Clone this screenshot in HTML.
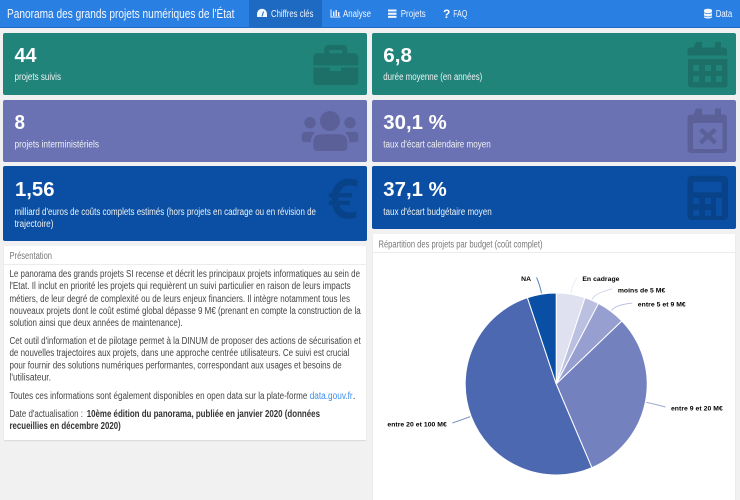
<!DOCTYPE html>
<html lang="fr">
<head>
<meta charset="utf-8">
<title>Panorama des grands projets numériques de l'État</title>
<style>
html,body{margin:0;padding:0;width:740px;height:500px;overflow:hidden;background:#f1f1f1;font-family:"Liberation Sans",sans-serif;}
.box{position:absolute;overflow:hidden;}
.box svg{position:absolute;left:0;top:0;display:block;}
.card{border-radius:2px;}
.teal{background:#21847b;}
.purple{background:#6b72b3;}
.blue{background:#0a4fa3;}
.panel{background:#fff;box-shadow:0 1px 1px rgba(0,0,0,.1);}
.num{font-weight:700;font-size:20px;fill:#fff;}
.lab{font-size:10px;fill:#f0f2f2;}
.ico{fill:rgba(0,0,0,.15);}
.nav{font-size:10px;fill:#f2f6fd;}
.b{font-size:10px;fill:#444;}
.bb{font-size:10px;fill:#333;font-weight:700;}
.h{font-size:10px;fill:#777;}
</style>
</head>
<body>

<div class="box" style="left:0;top:0;width:740px;height:28px;background:#2a7fe3;border-bottom:1px solid #1e6cc8;box-sizing:border-box;">
  <div class="box" style="left:249px;top:0;width:73px;height:27px;background:#1e69c2;"></div>
  <svg width="740" height="28" viewBox="0 0 740 28">
    <text x="7" y="18" font-size="12.6" fill="#f4f8fe" textLength="227.5" lengthAdjust="spacingAndGlyphs">Panorama des grands projets numériques de l'État</text>
    <g>
      <path d="M257 17v-3a5 5.300 0 0 1 10 0v3z" fill="#f2f6fd"/>
      <path d="M262 16.500l1.500-5" stroke="#1e69c2" stroke-width="1" fill="none"/>
      <text class="nav" x="271" y="16.8" textLength="42.5" lengthAdjust="spacingAndGlyphs">Chiffres clés</text>
    </g>
    <g>
      <path d="M330.5 9.5v8h10v-1h-9v-7z M333 11.5h1.4v4.5H333z M335.5 10h1.4v6h-1.4z M338 12h1.4v4H338z" fill="#f2f6fd"/>
      <text class="nav" x="343" y="16.8" textLength="28" lengthAdjust="spacingAndGlyphs">Analyse</text>
    </g>
    <g>
      <path d="M388 9.5h8.5v2H388z M388 12.7h8.5v2H388z M388 15.9h8.5v2H388z" fill="#f2f6fd"/>
      <text class="nav" x="400.7" y="16.8" textLength="25" lengthAdjust="spacingAndGlyphs">Projets</text>
    </g>
    <g>
      <text x="443" y="18" font-size="12" font-weight="700" fill="#f8fbff">?</text>
      <text class="nav" x="453.3" y="16.8" textLength="14" lengthAdjust="spacingAndGlyphs">FAQ</text>
    </g>
    <g>
      <path d="M704 10.2c0-2 8-2 8 0v1.5c0 2-8 2-8 0z M704 13c1.5 1.3 6.500 1.300 8 0v2c0 2-8 2-8 0z M704 16.200c1.500 1.300 6.500 1.300 8 0v.8c0 2-8 2-8 0z" fill="#f2f6fd"/>
      <text class="nav" x="715.7" y="16.800" textLength="16.500" lengthAdjust="spacingAndGlyphs">Data</text>
    </g>
  </svg>
</div>

<div class="box card teal" style="left:3px;top:33px;width:364px;height:62px;">
  <svg width="364" height="62" viewBox="3 33 364 62">
    <path class="ico" fill-rule="evenodd" d="M324.300 53.300v-4.300a4 4 0 0 1 4-4h15a4 4 0 0 1 4 4v4.300h7a4 4 0 0 1 4 4v8.200h-45v-8.200a4 4 0 0 1 4-4zM329.300 50v3.300h13V50z"/>
    <path class="ico" d="M313.300 67.500h16.700v3.500h11v-3.500h17.300v14a3.500 3.500 0 0 1-3.500 3.500h-38a3.500 3.500 0 0 1-3.500-3.500z"/>
    <text class="num" x="14.500" y="62" textLength="22" lengthAdjust="spacingAndGlyphs">44</text>
    <text class="lab" x="14.500" y="80" textLength="46.500" lengthAdjust="spacingAndGlyphs">projets suivis</text>
  </svg>
</div>

<div class="box card teal" style="left:372px;top:33px;width:364px;height:62px;">
  <svg width="364" height="62" viewBox="372 33 364 62">
    <path class="ico" fill-rule="evenodd" d="M696 42h6v5.500h13v-5.500h6v5.500h3a3 3 0 0 1 3 3v5h-39.500v-5a3 3 0 0 1 3-3h3zM688 59h39.500v25.500a3 3 0 0 1-3 3h-33.500a3 3 0 0 1-3-3zM693.300 65v6h5.700v-6zM705 65v6h6v-6zM716 65v6h6v-6zM693.300 76v6h5.700v-6zM705 76v6h6v-6zM716 76v6h6v-6z"/>
    <text class="num" x="383.300" y="62" textLength="28.700" lengthAdjust="spacingAndGlyphs">6,8</text>
    <text class="lab" x="383.300" y="80" textLength="99" lengthAdjust="spacingAndGlyphs">durée moyenne (en années)</text>
  </svg>
</div>

<div class="box card purple" style="left:3px;top:100px;width:364px;height:62px;">
  <svg width="364" height="62" viewBox="3 100 364 62">
    <g class="ico">
      <circle cx="330" cy="121" r="10"/>
      <circle cx="310" cy="122.700" r="5.700"/>
      <circle cx="350" cy="122.700" r="5.700"/>
      <path d="M313.300 147v-5q0-7.700 8-7.700h17q9 0 9 7.700v5q0 4-4 4h-26q-4 0-4-4z"/>
      <path d="M301.700 139v-3q0-4.300 4-4.300h6q2 0 3.500 1.300q-4 2.500-4.500 9.300h-5.500q-3.500 0-3.500-3.300z"/>
      <path d="M358.500 139v-3q0-4.300-4-4.300h-6q-2 0-3.500 1.300q4 2.500 4.500 9.300h5.500q3.500 0 3.500-3.300z"/>
    </g>
    <text class="num" x="14.500" y="129" textLength="10.500" lengthAdjust="spacingAndGlyphs">8</text>
    <text class="lab" x="14.500" y="147.500" textLength="84.500" lengthAdjust="spacingAndGlyphs">projets interministériels</text>
  </svg>
</div>

<div class="box card purple" style="left:372px;top:100px;width:364px;height:62px;">
  <svg width="364" height="62" viewBox="372 100 364 62">
    <path class="ico" fill-rule="evenodd" d="M696 108.500h6v6h13v-6h6v6h3a3 3 0 0 1 3 3v32.500a3 3 0 0 1-3 3h-33.500a3 3 0 0 1-3-3v-32.500a3 3 0 0 1 3-3h3zM693 123v26h29.500v-26zM702 128l6 5 6-5 3 3-5.500 5 5.500 5.500-3 3-6-5.500-6 5.500-3-3 5.500-5.500-5.500-5z"/>
    <text class="num" x="383.300" y="129" textLength="63.400" lengthAdjust="spacingAndGlyphs">30,1 %</text>
    <text class="lab" x="383.300" y="147.500" textLength="107.500" lengthAdjust="spacingAndGlyphs">taux d'écart calendaire moyen</text>
  </svg>
</div>

<div class="box card blue" style="left:3px;top:166px;width:364px;height:75px;">
  <svg width="364" height="75" viewBox="3 166 364 75">
    <path class="ico" d="M358 181l-1.500 6c-2-1-4.500-1.500-7-1.500-5 0-8.500 3-10 7.500h13l-1 4.500h-13v3h12l-1 4.500h-10c1.500 5 5 7.500 10 7.500 2.500 0 5-.5 7-1.500v6.500c-2 1-5 1.500-8 1.500-8.500 0-14.500-5-16.500-14h-3.500l1-4.500h2v-3h-3l1-4.500h2.500c2-9 8.500-14.500 17-14.500 3 0 6 .5 8.500 2z"/>
    <text class="num" x="15" y="196" textLength="39.500" lengthAdjust="spacingAndGlyphs">1,56</text>
    <text class="lab" x="14.500" y="215" textLength="301.500" lengthAdjust="spacingAndGlyphs">milliard d'euros de coûts complets estimés (hors projets en cadrage ou en révision de</text>
    <text class="lab" x="14.500" y="227" textLength="39" lengthAdjust="spacingAndGlyphs">trajectoire)</text>
  </svg>
</div>

<div class="box card blue" style="left:372px;top:166px;width:364px;height:62.500px;">
  <svg width="364" height="63" viewBox="372 166 364 63">
    <path class="ico" fill-rule="evenodd" d="M691.500 175.700h32.500a4 4 0 0 1 4 4v36.300a4 4 0 0 1-4 4h-32.500a4 4 0 0 1-4-4v-36.300a4 4 0 0 1 4-4zM693.300 181.700v10.600h28.400v-10.600zM693.300 198v6h6v-6zM705 198v6h6v-6zM716 198v17.700h6v-17.700zM693.300 210v5.700h6v-5.700zM705 210v5.700h6v-5.700z"/>
    <text class="num" x="383.300" y="196" textLength="63.400" lengthAdjust="spacingAndGlyphs">37,1 %</text>
    <text class="lab" x="383.300" y="215" textLength="108.400" lengthAdjust="spacingAndGlyphs">taux d'écart budgétaire moyen</text>
  </svg>
</div>

<div class="box panel" style="left:4px;top:246px;width:362px;height:194px;">
  <svg width="362" height="194" viewBox="4 246 362 194">
    <rect x="4" y="264" width="362" height="1" fill="#ececec"/>
    <text class="h" x="9.500" y="259" textLength="42.500" lengthAdjust="spacingAndGlyphs">Présentation</text>
    <g>
      <text class="b" x="9.500" y="276.800" textLength="350.500" lengthAdjust="spacingAndGlyphs">Le panorama des grands projets SI recense et décrit les principaux projets informatiques au sein de</text>
      <text class="b" x="9.500" y="289.200" textLength="341.200" lengthAdjust="spacingAndGlyphs">l'Etat. Il inclut en priorité les projets qui requièrent un suivi particulier en raison de leurs impacts</text>
      <text class="b" x="9.500" y="301.800" textLength="340.500" lengthAdjust="spacingAndGlyphs">métiers, de leur degré de complexité ou de leurs enjeux financiers. Il intègre notamment tous les</text>
      <text class="b" x="9.500" y="314.200" textLength="351.200" lengthAdjust="spacingAndGlyphs">nouveaux projets dont le coût estimé global dépasse 9 M€ (prenant en compte la construction de la</text>
      <text class="b" x="9.500" y="326.200" textLength="173.200" lengthAdjust="spacingAndGlyphs">solution ainsi que deux années de maintenance).</text>
    </g>
    <g>
      <text class="b" x="9.500" y="344.200" textLength="351.200" lengthAdjust="spacingAndGlyphs">Cet outil d'information et de pilotage permet à la DINUM de proposer des actions de sécurisation et</text>
      <text class="b" x="9.500" y="356.200" textLength="339.800" lengthAdjust="spacingAndGlyphs">de nouvelles trajectoires aux projets, dans une approche centrée utilisateurs. Ce suivi est crucial</text>
      <text class="b" x="9.500" y="368.500" textLength="332.200" lengthAdjust="spacingAndGlyphs">pour fournir des solutions numériques performantes, correspondant aux usages et besoins de</text>
      <text class="b" x="9.500" y="380.500" textLength="41.500" lengthAdjust="spacingAndGlyphs">l'utilisateur.</text>
    </g>
    <g>
      <text class="b" x="9.500" y="399.200" textLength="297.800" lengthAdjust="spacingAndGlyphs">Toutes ces informations sont également disponibles en open data sur la plate-forme</text>
      <text x="309.700" y="399.200" font-size="10" fill="#3c8dec" textLength="43" lengthAdjust="spacingAndGlyphs">data.gouv.fr</text>
      <text class="b" x="352.800" y="399.200">.</text>
    </g>
    <g>
      <text class="b" x="9.500" y="416.800" textLength="73.500" lengthAdjust="spacingAndGlyphs">Date d'actualisation :</text>
      <text class="bb" x="86.700" y="416.800" textLength="233.300" lengthAdjust="spacingAndGlyphs">10ème édition du panorama, publiée en janvier 2020 (données</text>
      <text class="bb" x="9.500" y="429.200" textLength="111.200" lengthAdjust="spacingAndGlyphs">recueillies en décembre 2020)</text>
    </g>
  </svg>
</div>

<div class="box panel" style="left:372.500px;top:234px;width:362.500px;height:266px;">
  <svg id="pie-svg" width="363" height="266" viewBox="372.500 234 363 266">
    <rect x="372.500" y="252" width="363" height="1" fill="#ececec"/>
    <text class="h" x="378" y="247.500" textLength="164" lengthAdjust="spacingAndGlyphs">Répartition des projets par budget (coût complet)</text>
    <g id="slices"></g>
    <g id="labels"></g>
  </svg>
</div>

<script>
const categories = ["En cadrage", "moins de 5 M€", "entre 5 et 9 M€", "entre 9 et 20 M€", "entre 20 et 100 M€", "NA"];
const projectCounts = [2, 1, 2, 12, 20, 2];

function drawPie() {
  const NS = "http://www.w3.org/2000/svg";
  const sliceColors = ["#dfe1f1", "#bcc0e0", "#979fd0", "#7382bf", "#4c68b1", "#0a4fa6"];
  const cx = 555.7, cy = 384, r = 91, labelR = 110;
  const total = projectCounts.reduce(function (a, b) { return a + b; }, 0);
  const toXY = function (radius, deg) {
    const t = deg * Math.PI / 180;
    return [cx + radius * Math.sin(t), cy - radius * Math.cos(t)];
  };
  const slices = document.getElementById("slices");
  const labels = document.getElementById("labels");
  const nudges = [[3, 2], [13, 6], [10, 7], [1.5, 1], [-1, 0], [-2, 2]];
  let start = 0;
  projectCounts.forEach(function (v, i) {
    const sweep = v / total * 360;
    const end = start + sweep;
    const mid = start + sweep / 2;
    const a = toXY(r, start), b = toXY(r, end);
    const path = document.createElementNS(NS, "path");
    path.setAttribute("d", "M" + cx + " " + cy + "L" + a[0] + " " + a[1] + "A" + r + " " + r + " 0 " + (sweep > 180 ? 1 : 0) + " 1 " + b[0] + " " + b[1] + "Z");
    path.setAttribute("fill", sliceColors[i]);
    path.setAttribute("stroke", "#fff");
    path.setAttribute("stroke-width", "1");
    
    
    slices.appendChild(path);

    const edge = toXY(r + 1, mid);
    const radial = toXY(labelR, mid);
    const tip = [radial[0] + nudges[i][0], radial[1] + nudges[i][1]];
    const ctrl = toXY(r + 8, mid);
    const line = document.createElementNS(NS, "path");
    line.setAttribute("d", "M" + edge[0] + " " + edge[1] + "Q" + ctrl[0] + " " + ctrl[1] + " " + tip[0] + " " + tip[1]);
    line.setAttribute("fill", "none");
    line.setAttribute("stroke", sliceColors[i]);
    line.setAttribute("stroke-width", "1");
    line.setAttribute("stroke-opacity", "0.7");
    
    
    labels.appendChild(line);

    const right = mid < 180;
    const text = document.createElementNS(NS, "text");
    text.setAttribute("x", tip[0] + (right ? 5.5 : -5.5));
    text.setAttribute("y", tip[1] + 3.5);
    text.setAttribute("text-anchor", right ? "start" : "end");
    text.setAttribute("font-size", "6.800");
    text.setAttribute("font-weight", "700");
    text.setAttribute("letter-spacing", ".05");
    text.setAttribute("fill", "#000");
    
    
    text.textContent = categories[i];
    labels.appendChild(text);
    start = end;
  });
}
drawPie();
</script>
</body>
</html>
